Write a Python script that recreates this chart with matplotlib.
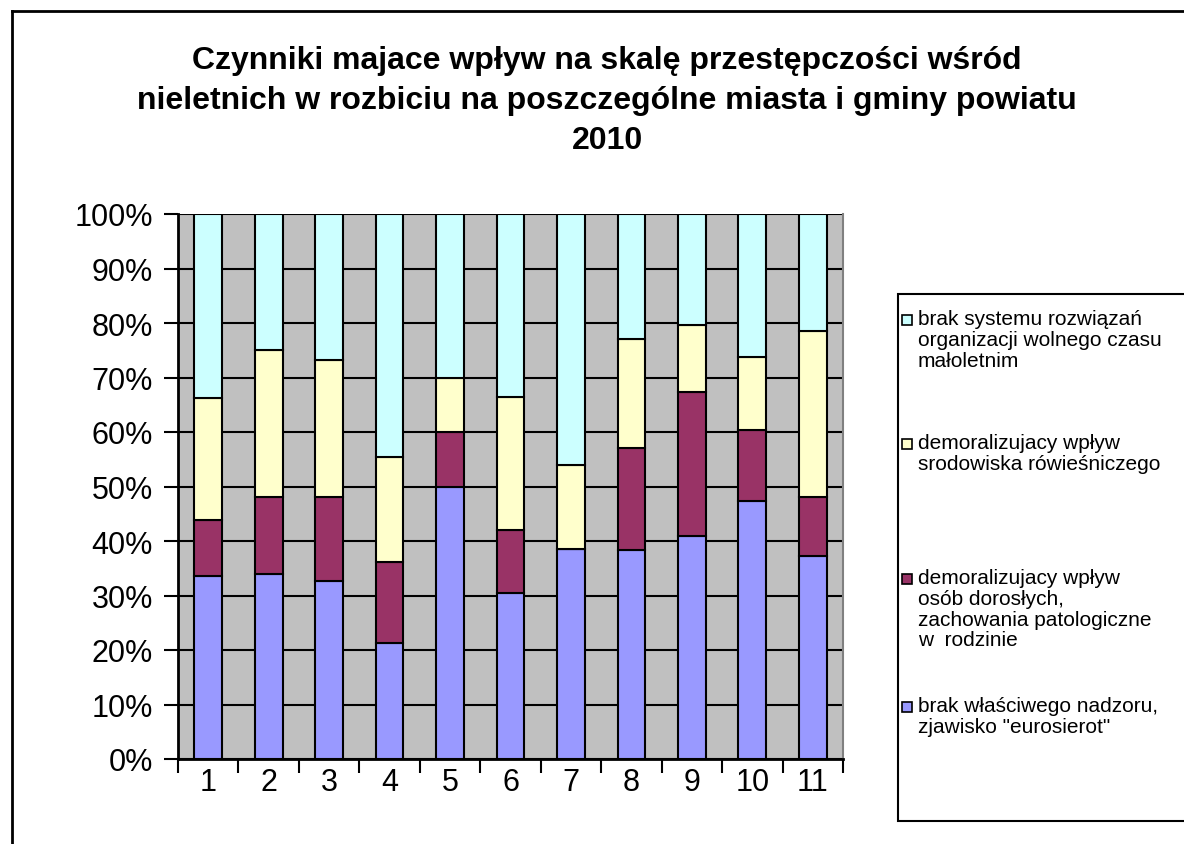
import matplotlib.pyplot as plt
import numpy as np
from matplotlib.patches import Rectangle
from matplotlib.lines import Line2D

plt.rcParams['font.family'] = ['Liberation Sans', 'DejaVu Sans']

# dane (procenty)
gminy = ["1", "2", "3", "4", "5", "6", "7", "8", "9", "10", "11"]
nadzor = [33.6, 33.9, 32.6, 21.3, 50.0, 30.4, 38.5, 38.3, 40.9, 47.4, 37.3]
dorosli = [10.2, 14.2, 15.5, 14.8, 10.0, 11.6, 0.0, 18.8, 26.5, 13.0, 10.8]
rowiesnicy = [22.5, 27.0, 25.1, 19.3, 9.9, 24.5, 15.4, 20.0, 12.2, 13.4, 30.5]
czas_wolny = [33.7, 24.9, 26.8, 44.6, 30.1, 33.5, 46.1, 22.9, 20.4, 26.2, 21.4]

etykiety = [
    "brak systemu rozwiązań\norganizacji wolnego czasu\nmałoletnim",
    "demoralizujacy wpływ\nsrodowiska rówieśniczego",
    "demoralizujacy wpływ\nosób dorosłych,\nzachowania patologiczne\nw  rodzinie",
    "brak właściwego nadzoru,\nzjawisko \"eurosierot\"",
]
kolory = ["#CCFFFF", "#FFFFCC", "#993366", "#9999FF"]

W, H = 1184, 845
fig = plt.figure(figsize=(W / 100, H / 100), dpi=100)
fx = lambda p: p / W
fy = lambda p: 1 - p / H

# ramka wykresu
fig.add_artist(Line2D([fx(12), fx(12)], [fy(12), fy(H + 5)], color="black", lw=2))
fig.add_artist(Line2D([fx(12), fx(W + 5)], [fy(12), fy(12)], color="black", lw=2))

fig.text(fx(607), fy(101), "Czynniki majace wpływ na skalę przestępczości wśród\n"
         "nieletnich w rozbiciu na poszczególne miasta i gminy powiatu\n2010",
         ha="center", va="center", fontsize=23, fontweight="bold", linespacing=1.42)

ax = fig.add_axes([fx(178), 1 - 760 / H, 665 / W, 545 / H])
ax.set_facecolor("#C0C0C0")
x = np.arange(len(gminy))
serie = [nadzor, dorosli, rowiesnicy, czas_wolny]
kol_serii = ["#9999FF", "#993366", "#FFFFCC", "#CCFFFF"]
dol = np.zeros(len(gminy))
for s, k in zip(serie, kol_serii):
    ax.bar(x, s, 0.46, bottom=dol, color=k, edgecolor="black", linewidth=1.5, zorder=3)
    dol += np.array(s)

ax.set_xlim(-0.5, len(gminy) - 0.5)
ax.set_ylim(0, 100)
ax.set_yticks(np.arange(0, 101, 10))
ax.set_yticklabels([f"{v}%" for v in range(0, 101, 10)], fontsize=22)
ax.set_xticks(np.arange(-0.5, len(gminy), 1))
ax.set_xticklabels([])
ax.set_xticks(x, minor=True)
ax.set_xticklabels(gminy, minor=True, fontsize=22)
ax.tick_params(axis="x", which="minor", length=0, pad=6)
ax.tick_params(axis="x", which="major", length=10, width=1.5, direction="out")
ax.tick_params(axis="y", length=10, width=1.5, pad=8)
ax.yaxis.grid(True, color="black", lw=1.5, zorder=1)
ax.set_axisbelow(True)
for sp in ["left", "bottom"]:
    ax.spines[sp].set_linewidth(2)
ax.spines["top"].set_visible(False)
ax.spines["right"].set_color("#808080")
ax.spines["right"].set_linewidth(1.5)

# legenda
fig.add_artist(Rectangle((fx(898), fy(822)), fx(320), (822 - 295) / H,
                         transform=fig.transFigure, facecolor="white",
                         edgecolor="black", lw=1.5))
pozycje = [321, 445, 580, 708]
for et, k, py in zip(etykiety, kolory, pozycje):
    fig.add_artist(Rectangle((fx(902), fy(py + 5)), fx(10), 10 / H,
                             transform=fig.transFigure, facecolor=k,
                             edgecolor="black", lw=1.2))
    fig.text(fx(918), fy(py - 11), et, ha="left", va="top", fontsize=15,
             linespacing=1.12)

fig.savefig("out.png", dpi=100)
